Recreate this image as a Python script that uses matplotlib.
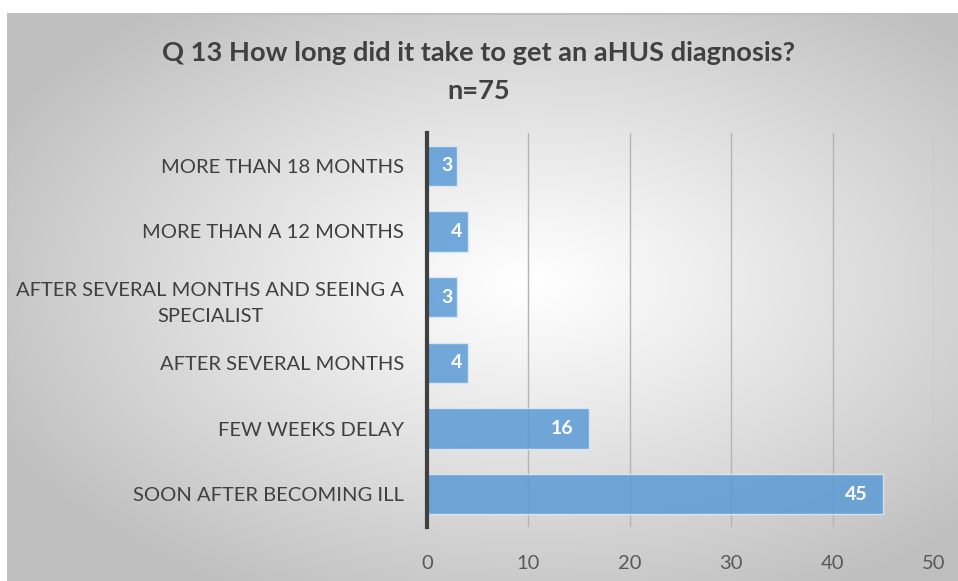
import numpy as np
import matplotlib.pyplot as plt

# data, top to bottom as shown
categories = ["MORE THAN 18 MONTHS",
              "MORE THAN A 12 MONTHS",
              "AFTER SEVERAL MONTHS AND SEEING A\nSPECIALIST",
              "AFTER SEVERAL MONTHS",
              "FEW WEEKS DELAY",
              "SOON AFTER BECOMING ILL"]
counts = [3, 4, 3, 4, 16, 45]
x_ticks = [0, 10, 20, 30, 40, 50]

plt.rcParams['font.family'] = ['Lato', 'DejaVu Sans']

fig = plt.figure(figsize=(9.58, 5.81), dpi=100)

# radial gradient background of the chart area
bg = fig.add_axes([7/958, 0, 1 - 7/958, 1 - 13/581])
yy, xx = np.mgrid[-1:1:300j, -1:1:500j]
r = np.sqrt(((xx - 0.1) / 1.0) ** 2 + ((yy + 0.05) / 1.0) ** 2)
shade = 1.0 - 0.25 * np.clip(r / 1.25, 0, 1) ** 1.1
bg.imshow(np.dstack([shade] * 3), aspect='auto', extent=[0, 1, 0, 1],
          interpolation='bilinear')
bg.set_xlim(0, 1)
bg.set_ylim(0, 1)
bg.set_xticks([])
bg.set_yticks([])
for s in bg.spines.values():
    s.set_visible(False)
bg.axhline(1, color='#bfbfbf', lw=2)
bg.axvline(0, color='#bfbfbf', lw=1.5)

ax = fig.add_axes([427/958, 1 - 527/581, (934 - 427)/958, (527 - 133)/581])
ax.patch.set_alpha(0)

y = np.arange(len(categories))
ax.barh(y, counts, height=0.61, color='#5b9bd5', alpha=0.85,
        edgecolor='#ddebf7', linewidth=1, zorder=3)
for yi, v in zip(y, counts):
    off = 1.6 if v > 10 else 0.5
    ax.text(v - off, yi, str(v), ha='right', va='center', color='white',
            fontsize=14, fontweight='bold', zorder=4)

ax.set_ylim(len(categories) - 0.5, -0.5)
ax.set_xlim(0, 50)
ax.set_xticks(x_ticks)
ax.set_yticks(y)
ax.set_yticklabels(categories, fontsize=14.5, color='#404040')
ax.tick_params(axis='x', labelsize=14.5, labelcolor='#595959', length=0, pad=20)
ax.tick_params(axis='y', length=0, pad=16.5)
for lbl in ax.get_yticklabels():
    lbl.set_multialignment('center')
    lbl.set_linespacing(1.65)
ax.grid(axis='x', color='#b4b4b4', lw=1, zorder=0)
for s in ['top', 'right', 'bottom']:
    ax.spines[s].set_visible(False)
ax.spines['left'].set_color('#404040')
ax.spines['left'].set_linewidth(3)
ax.spines['left'].set_zorder(5)

fig.text(0.5, 1 - 53/581, "Q 13 How long did it take to get an aHUS diagnosis?",
         ha='center', va='center', fontsize=19.6, fontweight='bold', color='#404040')
fig.text(0.5, 1 - 91/581, "n=75", ha='center', va='center', fontsize=19.6,
         fontweight='bold', color='#404040')

fig.savefig('out.png', dpi=100)
